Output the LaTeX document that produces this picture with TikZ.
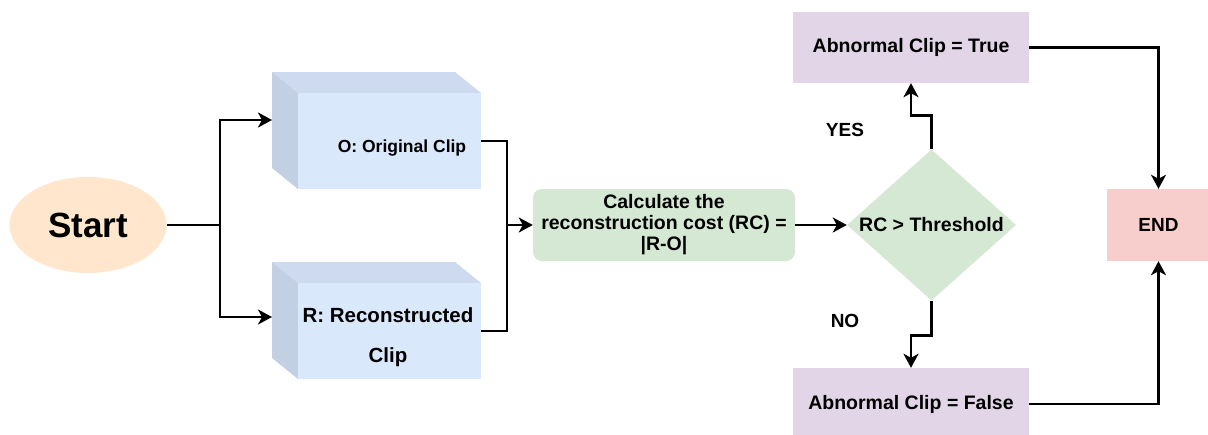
\documentclass[tikz,border=0pt]{standalone}
\usepackage{fontspec}
\setmainfont{Liberation Sans}
\usetikzlibrary{arrows.meta,shapes.geometric}

\definecolor{startfill}{HTML}{FFE6CC}
\definecolor{cubefront}{HTML}{DAE8FC}
\definecolor{cubetop}{HTML}{CDDAEF}
\definecolor{cubeside}{HTML}{C3CFE3}
\definecolor{greenfill}{HTML}{D5E8D4}
\definecolor{purplefill}{HTML}{E1D5E7}
\definecolor{redfill}{HTML}{F8CECC}

\newcommand{\fsz}[1]{\fontsize{#1}{#1}\selectfont\bfseries}

\begin{document}
\begin{tikzpicture}[x=1pt,y=-1pt,
  font=\fsz{19.5},
  link/.style={line width=2.5pt, draw=black},
  flow/.style={link, arrows={-Stealth[length=14pt,width=15pt,inset=4pt]}},
  box/.style={rectangle, inner sep=0pt, align=center},
  facefront/.style={box, fill=cubefront, minimum width=183pt, minimum height=96pt, anchor=north west},
  lbl/.style={inner sep=0pt}
]
\useasboundingbox (0,0) rectangle (1208,434);

% start
\node[ellipse, fill=startfill, minimum width=157pt, minimum height=96pt, inner sep=0pt] (start) at (88,225) {\fsz{35}Start};

% cube O
\fill[cubetop] (272,72) -- (455,72) -- (481,93) -- (298,93) -- cycle;
\fill[cubeside] (272,72) -- (298,93) -- (298,189) -- (272,168) -- cycle;
\node[facefront] (orig) at (298,93) {};
\node[lbl] (origtext) at (402,148) {\fsz{17.5}O: Original Clip};
\coordinate (origin) at (272,120);

% cube R
\fill[cubetop] (272,262) -- (455,262) -- (481,283) -- (298,283) -- cycle;
\fill[cubeside] (272,262) -- (298,283) -- (298,379) -- (272,358) -- cycle;
\node[facefront] (recon) at (298,283) {};
\node[lbl, align=center, font=\fontsize{20.5}{40}\selectfont\bfseries] (recontext) at (388,337) {R: Reconstructed\\Clip};
\coordinate (recin) at (272,317);

% cost
\node[box, fill=greenfill, rounded corners=9pt, minimum width=262pt, minimum height=72pt,
      font=\fontsize{19.5}{21}\selectfont\bfseries] (calc) at (664,225)
  {Calculate the\\reconstruction cost (RC) =\\|R-O|};

% decision
\node[diamond, aspect=1.12, fill=greenfill, minimum width=169pt, minimum height=151pt, inner sep=0pt] (dec) at (931.5,225) {RC > Threshold};

% outcomes
\node[box, fill=purplefill, minimum width=236pt, minimum height=71pt] (yes) at (911,47.5) {Abnormal Clip = True};
\node[box, fill=purplefill, minimum width=236pt, minimum height=72pt] (no) at (911,404) {Abnormal Clip = False};
\node[box, fill=redfill, minimum width=103pt, minimum height=72pt] (end) at (1158.5,225) {\fsz{19}END};

\node[lbl] (yeslbl) at (845,130) {\fsz{19}YES};
\node[lbl] (nolbl) at (845,321) {\fsz{19}NO};

% connectors
\coordinate (split) at (220,225);
\coordinate (merge) at (507,225);
\draw[link] (start.east) -- (split);
\draw[flow] (split) |- (origin);
\draw[flow] (split) |- (recin);
\draw[link] (orig.east) -| (merge);
\draw[link] (recon.east) -| (merge);
\draw[flow] (merge) -- (calc.west);
\draw[flow] (calc.east) -- (dec.west);
\draw[flow] (dec.north) -- ++(0,-34) -| (yes.south);
\draw[flow] (dec.south) -- ++(0,35) -| (no.north);
\draw[flow] (yes.east) -| (end.north);
\draw[flow] (no.east) -| (end.south);
\end{tikzpicture}
\end{document}
